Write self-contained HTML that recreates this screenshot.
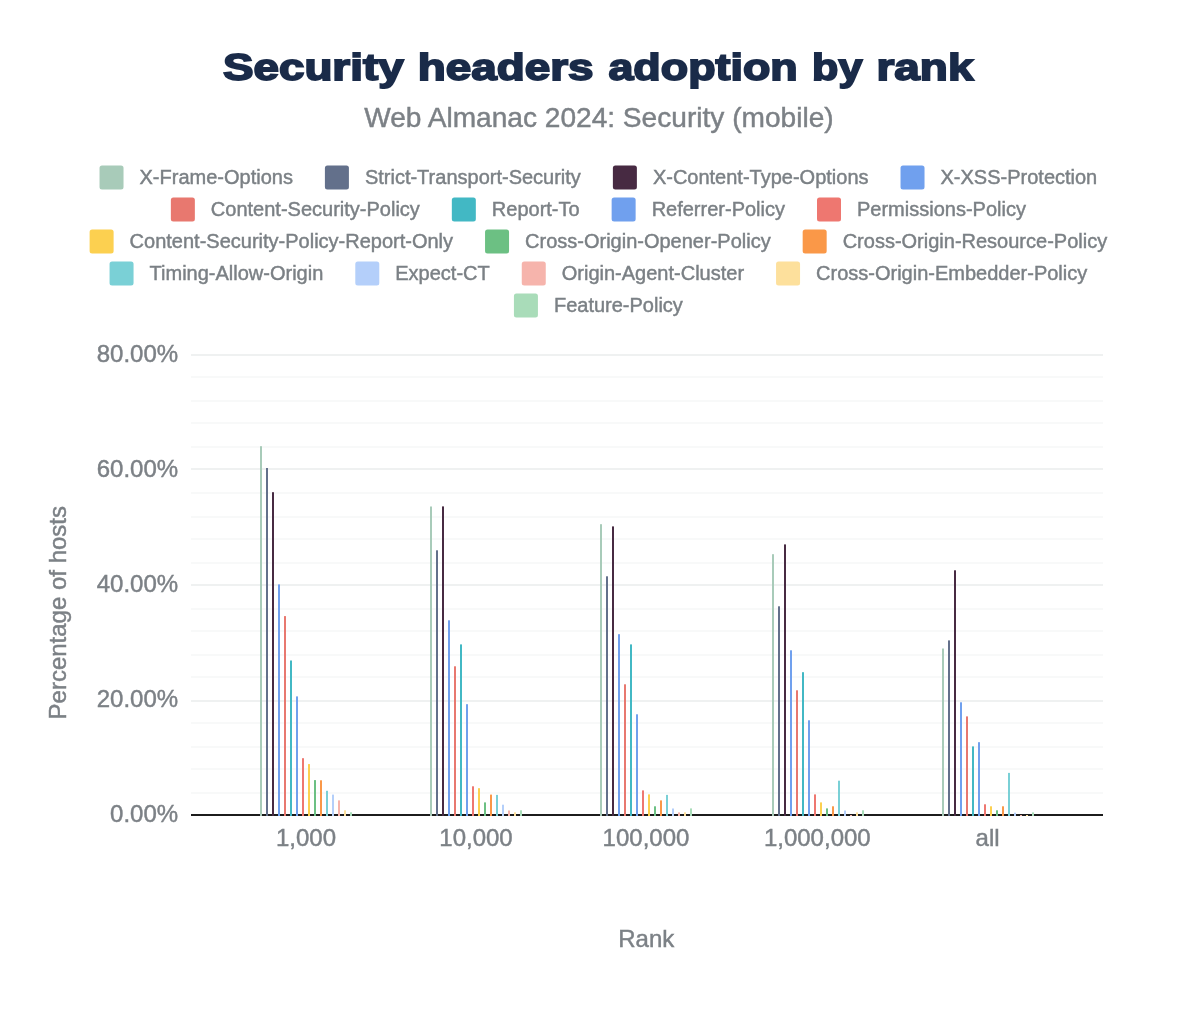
<!DOCTYPE html>
<html><head><meta charset="utf-8"><title>Security headers adoption by rank</title>
<style>
html,body{margin:0;padding:0;background:#fff;}
svg{display:block;font-family:"Liberation Sans",sans-serif;will-change:transform;}
</style></head><body>
<svg width="1200" height="1010" viewBox="0 0 1200 1010">
<rect x="0" y="0" width="1200" height="1010" fill="#ffffff"/>
<text x="222.98" y="79.8" font-size="37.5" font-weight="bold" fill="#1a2b49" stroke="#1a2b49" stroke-width="1.8" stroke-linejoin="miter" stroke-miterlimit="3" textLength="180.65" lengthAdjust="spacingAndGlyphs">Security</text>
<text x="417.69" y="79.8" font-size="37.5" font-weight="bold" fill="#1a2b49" stroke="#1a2b49" stroke-width="1.8" stroke-linejoin="miter" stroke-miterlimit="3" textLength="175.81" lengthAdjust="spacingAndGlyphs">headers</text>
<text x="608.45" y="79.8" font-size="37.5" font-weight="bold" fill="#1a2b49" stroke="#1a2b49" stroke-width="1.8" stroke-linejoin="miter" stroke-miterlimit="3" textLength="189.25" lengthAdjust="spacingAndGlyphs">adoption</text>
<text x="812.13" y="79.8" font-size="37.5" font-weight="bold" fill="#1a2b49" stroke="#1a2b49" stroke-width="1.8" stroke-linejoin="miter" stroke-miterlimit="3" textLength="50.30" lengthAdjust="spacingAndGlyphs">by</text>
<text x="876.47" y="79.8" font-size="37.5" font-weight="bold" fill="#1a2b49" stroke="#1a2b49" stroke-width="1.8" stroke-linejoin="miter" stroke-miterlimit="3" textLength="96.95" lengthAdjust="spacingAndGlyphs">rank</text>
<text x="598.9" y="126.6" font-size="28.1" fill="#7c8186" stroke="#7c8186" stroke-width="0.45" text-anchor="middle">Web Almanac 2024: Security (mobile)</text>
<rect x="99.53" y="165.6" width="24" height="24" rx="2.5" fill="#a8cbb9"/><text x="139.53" y="183.9" font-size="20" fill="#7b8085" stroke="#7b8085" stroke-width="0.45">X-Frame-Options</text>
<rect x="324.91" y="165.6" width="24" height="24" rx="2.5" fill="#63708b"/><text x="364.91" y="183.9" font-size="20" fill="#7b8085" stroke="#7b8085" stroke-width="0.45">Strict-Transport-Security</text>
<rect x="612.88" y="165.6" width="24" height="24" rx="2.5" fill="#472a42"/><text x="652.88" y="183.9" font-size="20" fill="#7b8085" stroke="#7b8085" stroke-width="0.45">X-Content-Type-Options</text>
<rect x="900.53" y="165.6" width="24" height="24" rx="2.5" fill="#70a0ee"/><text x="940.53" y="183.9" font-size="20" fill="#7b8085" stroke="#7b8085" stroke-width="0.45">X-XSS-Protection</text>
<rect x="170.86" y="197.6" width="24" height="24" rx="2.5" fill="#e8786f"/><text x="210.86" y="215.9" font-size="20" fill="#7b8085" stroke="#7b8085" stroke-width="0.45">Content-Security-Policy</text>
<rect x="451.83" y="197.6" width="24" height="24" rx="2.5" fill="#42b8c4"/><text x="491.83" y="215.9" font-size="20" fill="#7b8085" stroke="#7b8085" stroke-width="0.45">Report-To</text>
<rect x="611.64" y="197.6" width="24" height="24" rx="2.5" fill="#70a0ee"/><text x="651.64" y="215.9" font-size="20" fill="#7b8085" stroke="#7b8085" stroke-width="0.45">Referrer-Policy</text>
<rect x="817.00" y="197.6" width="24" height="24" rx="2.5" fill="#ee7770"/><text x="857.00" y="215.9" font-size="20" fill="#7b8085" stroke="#7b8085" stroke-width="0.45">Permissions-Policy</text>
<rect x="89.61" y="229.6" width="24" height="24" rx="2.5" fill="#fcd050"/><text x="129.61" y="247.9" font-size="20" fill="#7b8085" stroke="#7b8085" stroke-width="0.45">Content-Security-Policy-Report-Only</text>
<rect x="485.05" y="229.6" width="24" height="24" rx="2.5" fill="#6cc083"/><text x="525.05" y="247.9" font-size="20" fill="#7b8085" stroke="#7b8085" stroke-width="0.45">Cross-Origin-Opener-Policy</text>
<rect x="802.67" y="229.6" width="24" height="24" rx="2.5" fill="#fa9848"/><text x="842.67" y="247.9" font-size="20" fill="#7b8085" stroke="#7b8085" stroke-width="0.45">Cross-Origin-Resource-Policy</text>
<rect x="109.56" y="261.6" width="24" height="24" rx="2.5" fill="#7ad0d6"/><text x="149.56" y="279.9" font-size="20" fill="#7b8085" stroke="#7b8085" stroke-width="0.45">Timing-Allow-Origin</text>
<rect x="355.29" y="261.6" width="24" height="24" rx="2.5" fill="#b4cffa"/><text x="395.29" y="279.9" font-size="20" fill="#7b8085" stroke="#7b8085" stroke-width="0.45">Expect-CT</text>
<rect x="521.76" y="261.6" width="24" height="24" rx="2.5" fill="#f6b4ac"/><text x="561.76" y="279.9" font-size="20" fill="#7b8085" stroke="#7b8085" stroke-width="0.45">Origin-Agent-Cluster</text>
<rect x="776.06" y="261.6" width="24" height="24" rx="2.5" fill="#fde09c"/><text x="816.06" y="279.9" font-size="20" fill="#7b8085" stroke="#7b8085" stroke-width="0.45">Cross-Origin-Embedder-Policy</text>
<rect x="513.93" y="293.6" width="24" height="24" rx="2.5" fill="#a9dcb9"/><text x="553.93" y="311.9" font-size="20" fill="#7b8085" stroke="#7b8085" stroke-width="0.45">Feature-Policy</text>
<rect x="191" y="354" width="912" height="2" fill="#eff1f1"/>
<rect x="191" y="376" width="912" height="2" fill="#f8f9f9"/>
<rect x="191" y="400" width="912" height="2" fill="#f8f9f9"/>
<rect x="191" y="422" width="912" height="2" fill="#f8f9f9"/>
<rect x="191" y="446" width="912" height="2" fill="#f8f9f9"/>
<rect x="191" y="468" width="912" height="2" fill="#eff1f1"/>
<rect x="191" y="492" width="912" height="2" fill="#f8f9f9"/>
<rect x="191" y="516" width="912" height="2" fill="#f8f9f9"/>
<rect x="191" y="538" width="912" height="2" fill="#f8f9f9"/>
<rect x="191" y="562" width="912" height="2" fill="#f8f9f9"/>
<rect x="191" y="584" width="912" height="2" fill="#eff1f1"/>
<rect x="191" y="608" width="912" height="2" fill="#f8f9f9"/>
<rect x="191" y="630" width="912" height="2" fill="#f8f9f9"/>
<rect x="191" y="654" width="912" height="2" fill="#f8f9f9"/>
<rect x="191" y="676" width="912" height="2" fill="#f8f9f9"/>
<rect x="191" y="700" width="912" height="2" fill="#eff1f1"/>
<rect x="191" y="722" width="912" height="2" fill="#f8f9f9"/>
<rect x="191" y="746" width="912" height="2" fill="#f8f9f9"/>
<rect x="191" y="768" width="912" height="2" fill="#f8f9f9"/>
<rect x="191" y="792" width="912" height="2" fill="#f8f9f9"/>
<text x="178.1" y="822.4" font-size="24" fill="#7c8186" stroke="#7c8186" stroke-width="0.45" text-anchor="end">0.00%</text>
<text x="178.1" y="707.4" font-size="24" fill="#7c8186" stroke="#7c8186" stroke-width="0.45" text-anchor="end">20.00%</text>
<text x="178.1" y="592.4" font-size="24" fill="#7c8186" stroke="#7c8186" stroke-width="0.45" text-anchor="end">40.00%</text>
<text x="178.1" y="477.4" font-size="24" fill="#7c8186" stroke="#7c8186" stroke-width="0.45" text-anchor="end">60.00%</text>
<text x="178.1" y="362.4" font-size="24" fill="#7c8186" stroke="#7c8186" stroke-width="0.45" text-anchor="end">80.00%</text>
<rect x="191" y="814" width="912" height="2" fill="#1c1c1c"/>
<rect x="260" y="446.2" width="2" height="369.8" fill="#a8cbb9"/><rect x="266" y="468.0" width="2" height="348.0" fill="#63708b"/><rect x="272" y="492.2" width="2" height="323.8" fill="#472a42"/><rect x="278" y="584.4" width="2" height="231.6" fill="#70a0ee"/><rect x="284" y="616.1" width="2" height="199.9" fill="#e8786f"/><rect x="290" y="660.5" width="2" height="155.5" fill="#42b8c4"/><rect x="296" y="696.4" width="2" height="119.6" fill="#70a0ee"/><rect x="302" y="758.2" width="2" height="57.8" fill="#ee7770"/><rect x="308" y="764.1" width="2" height="51.9" fill="#fcd050"/><rect x="314" y="780.1" width="2" height="35.9" fill="#6cc083"/><rect x="320" y="780.3" width="2" height="35.7" fill="#fa9848"/><rect x="326" y="790.8" width="2" height="25.2" fill="#7ad0d6"/><rect x="332" y="794.6" width="2" height="21.4" fill="#b4cffa"/><rect x="338" y="800.4" width="2" height="15.6" fill="#f6b4ac"/><rect x="344" y="810.3" width="2" height="5.7" fill="#fde09c"/><rect x="350" y="812.3" width="2" height="3.7" fill="#a9dcb9"/>
<rect x="430" y="506.5" width="2" height="309.5" fill="#a8cbb9"/><rect x="436" y="550.3" width="2" height="265.7" fill="#63708b"/><rect x="442" y="506.4" width="2" height="309.6" fill="#472a42"/><rect x="448" y="620.3" width="2" height="195.7" fill="#70a0ee"/><rect x="454" y="666.3" width="2" height="149.7" fill="#e8786f"/><rect x="460" y="644.4" width="2" height="171.6" fill="#42b8c4"/><rect x="466" y="704.2" width="2" height="111.8" fill="#70a0ee"/><rect x="472" y="786.3" width="2" height="29.7" fill="#ee7770"/><rect x="478" y="788.2" width="2" height="27.8" fill="#fcd050"/><rect x="484" y="802.4" width="2" height="13.6" fill="#6cc083"/><rect x="490" y="794.6" width="2" height="21.4" fill="#fa9848"/><rect x="496" y="794.9" width="2" height="21.1" fill="#7ad0d6"/><rect x="502" y="804.7" width="2" height="11.3" fill="#b4cffa"/><rect x="508" y="810.5" width="2" height="5.5" fill="#f6b4ac"/><rect x="514" y="812.3" width="2" height="3.7" fill="#fde09c"/><rect x="520" y="810.3" width="2" height="5.7" fill="#a9dcb9"/>
<rect x="600" y="524.2" width="2" height="291.8" fill="#a8cbb9"/><rect x="606" y="576.3" width="2" height="239.7" fill="#63708b"/><rect x="612" y="526.4" width="2" height="289.6" fill="#472a42"/><rect x="618" y="634.2" width="2" height="181.8" fill="#70a0ee"/><rect x="624" y="684.3" width="2" height="131.7" fill="#e8786f"/><rect x="630" y="644.4" width="2" height="171.6" fill="#42b8c4"/><rect x="636" y="714.3" width="2" height="101.7" fill="#70a0ee"/><rect x="642" y="790.4" width="2" height="25.6" fill="#ee7770"/><rect x="648" y="794.4" width="2" height="21.6" fill="#fcd050"/><rect x="654" y="806.3" width="2" height="9.7" fill="#6cc083"/><rect x="660" y="800.4" width="2" height="15.6" fill="#fa9848"/><rect x="666" y="794.9" width="2" height="21.1" fill="#7ad0d6"/><rect x="672" y="808.5" width="2" height="7.5" fill="#b4cffa"/><rect x="678" y="812.4" width="2" height="3.6" fill="#f6b4ac"/><rect x="684" y="812.3" width="2" height="3.7" fill="#fde09c"/><rect x="690" y="808.4" width="2" height="7.6" fill="#a9dcb9"/>
<rect x="772" y="554.2" width="2" height="261.8" fill="#a8cbb9"/><rect x="778" y="606.3" width="2" height="209.7" fill="#63708b"/><rect x="784" y="544.4" width="2" height="271.6" fill="#472a42"/><rect x="790" y="650.3" width="2" height="165.7" fill="#70a0ee"/><rect x="796" y="690.3" width="2" height="125.7" fill="#e8786f"/><rect x="802" y="672.2" width="2" height="143.8" fill="#42b8c4"/><rect x="808" y="720.3" width="2" height="95.7" fill="#70a0ee"/><rect x="814" y="794.4" width="2" height="21.6" fill="#ee7770"/><rect x="820" y="802.4" width="2" height="13.6" fill="#fcd050"/><rect x="826" y="808.4" width="2" height="7.6" fill="#6cc083"/><rect x="832" y="806.3" width="2" height="9.7" fill="#fa9848"/><rect x="838" y="780.7" width="2" height="35.3" fill="#7ad0d6"/><rect x="844" y="810.5" width="2" height="5.5" fill="#b4cffa"/><rect x="850" y="815.0" width="2" height="1.0" fill="#f6b4ac"/><rect x="856" y="812.4" width="2" height="3.6" fill="#fde09c"/><rect x="862" y="810.3" width="2" height="5.7" fill="#a9dcb9"/>
<rect x="942" y="648.5" width="2" height="167.5" fill="#a8cbb9"/><rect x="948" y="640.4" width="2" height="175.6" fill="#63708b"/><rect x="954" y="570.3" width="2" height="245.7" fill="#472a42"/><rect x="960" y="702.3" width="2" height="113.7" fill="#70a0ee"/><rect x="966" y="716.4" width="2" height="99.6" fill="#e8786f"/><rect x="972" y="746.4" width="2" height="69.6" fill="#42b8c4"/><rect x="978" y="742.2" width="2" height="73.8" fill="#70a0ee"/><rect x="984" y="804.3" width="2" height="11.7" fill="#ee7770"/><rect x="990" y="806.3" width="2" height="9.7" fill="#fcd050"/><rect x="996" y="810.3" width="2" height="5.7" fill="#6cc083"/><rect x="1002" y="806.3" width="2" height="9.7" fill="#fa9848"/><rect x="1008" y="772.9" width="2" height="43.1" fill="#7ad0d6"/><rect x="1014" y="812.7" width="2" height="3.3" fill="#b4cffa"/><rect x="1020" y="815.0" width="2" height="1.0" fill="#f6b4ac"/><rect x="1026" y="815.0" width="2" height="1.0" fill="#fde09c"/><rect x="1032" y="812.4" width="2" height="3.6" fill="#a9dcb9"/>
<text x="306" y="846" font-size="24" fill="#7c8186" stroke="#7c8186" stroke-width="0.45" text-anchor="middle">1,000</text>
<text x="476" y="846" font-size="24" fill="#7c8186" stroke="#7c8186" stroke-width="0.45" text-anchor="middle">10,000</text>
<text x="646" y="846" font-size="24" fill="#7c8186" stroke="#7c8186" stroke-width="0.45" text-anchor="middle">100,000</text>
<text x="817.3" y="846" font-size="24" fill="#7c8186" stroke="#7c8186" stroke-width="0.45" text-anchor="middle">1,000,000</text>
<text x="987.6" y="846" font-size="24" fill="#7c8186" stroke="#7c8186" stroke-width="0.45" text-anchor="middle">all</text>
<text x="646.3" y="946.8" font-size="24" fill="#7c8186" stroke="#7c8186" stroke-width="0.45" text-anchor="middle">Rank</text>
<text transform="translate(65.8,612.7) rotate(-90)" font-size="24" fill="#7c8186" stroke="#7c8186" stroke-width="0.45" text-anchor="middle">Percentage of hosts</text>
</svg>
</body></html>
